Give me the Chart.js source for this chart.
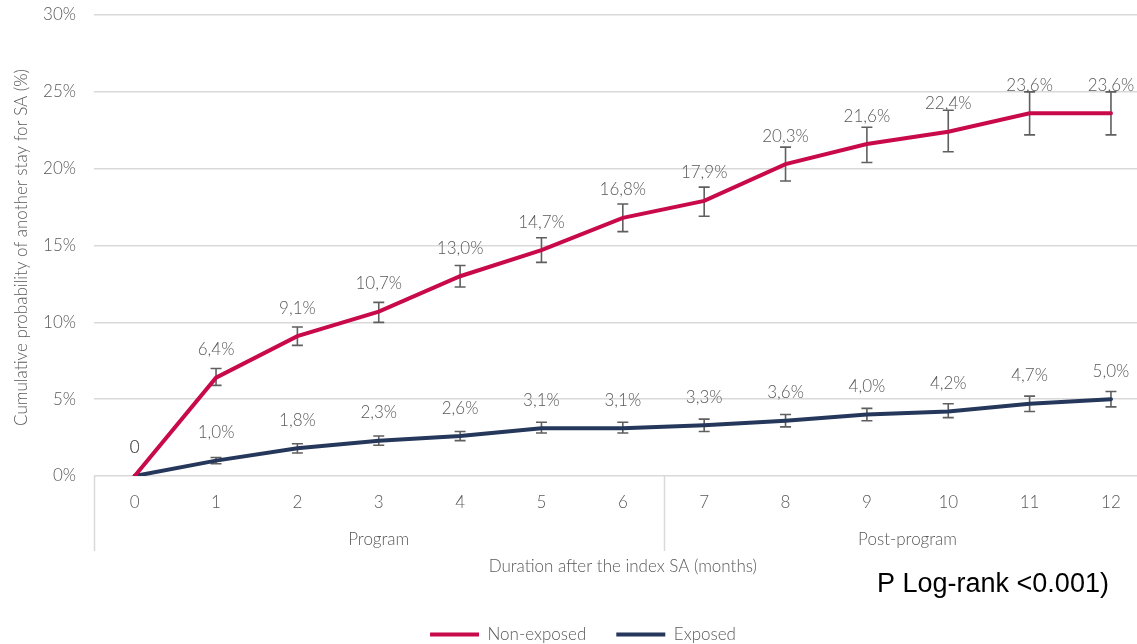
<!DOCTYPE html>
<html>
<head>
<meta charset="utf-8">
<script src="https://cdn.jsdelivr.net/npm/chart.js@4/dist/chart.umd.min.js"></script>
<style>
  html, body { margin: 0; padding: 0; background: #fff; overflow: hidden; }
</style>
</head>
<body>
<canvas id="chart" width="1137" height="644"></canvas>
<script>
// Months after the index sick-absence spell
const months = [0, 1, 2, 3, 4, 5, 6, 7, 8, 9, 10, 11, 12];
const monthLabels = ['0', '1', '2', '3', '4', '5', '6', '7', '8', '9', '10', '11', '12'];

// Cumulative probability (%) with 95% CI bounds
const nonExposed     = [0, 6.4, 9.1, 10.7, 13.0, 14.7, 16.8, 17.9, 20.3, 21.6, 22.4, 23.6, 23.6];
const nonExposedLow  = [0, 5.9, 8.5, 10.0, 12.3, 13.9, 15.9, 16.9, 19.2, 20.4, 21.1, 22.2, 22.2];
const nonExposedHigh = [0, 7.0, 9.7, 11.3, 13.7, 15.5, 17.7, 18.8, 21.4, 22.7, 23.8, 25.0, 25.0];

const exposed     = [0, 1.0, 1.8, 2.3, 2.6, 3.1, 3.1, 3.3, 3.6, 4.0, 4.2, 4.7, 5.0];
const exposedLow  = [0, 0.8, 1.5, 2.0, 2.3, 2.8, 2.8, 2.9, 3.2, 3.6, 3.8, 4.2, 4.5];
const exposedHigh = [0, 1.2, 2.1, 2.6, 2.9, 3.5, 3.5, 3.7, 4.0, 4.4, 4.7, 5.2, 5.5];

// Period groups along the month axis
const periodNames = ['Program', 'Post-program'];
const periodStart = [-0.5, 6.5];
const periodEnd   = [6.5, 12.5];

const yTicks = [0, 5, 10, 15, 20, 25, 30];

const FONT = 'Lato, "Noto Sans", sans-serif';
const WEIGHT = '300';
const TEXT = '#595959';
const GRID = '#d9d9d9';

function fmtPct(v) {
  return v === 0 ? '0' : v.toFixed(1).replace('.', ',') + '%';
}

function points(values) {
  return months.map((m, i) => ({ x: m, y: values[i] }));
}

// Confidence-interval whiskers, drawn underneath the lines
const errorBars = {
  id: 'errorBars',
  beforeDatasetsDraw(chart) {
    const { ctx, scales: { x, y } } = chart;
    ctx.save();
    ctx.strokeStyle = '#5f5f5f';
    ctx.lineWidth = 1.6;
    chart.data.datasets.forEach(ds => {
      ds.data.forEach((p, i) => {
        const lo = ds.ciLow[i], hi = ds.ciHigh[i];
        if (lo === hi) return;
        const px = x.getPixelForValue(p.x);
        const yl = y.getPixelForValue(lo), yh = y.getPixelForValue(hi);
        const cap = 5.5;
        ctx.beginPath();
        ctx.moveTo(px, yl); ctx.lineTo(px, yh);
        ctx.moveTo(px - cap, yl); ctx.lineTo(px + cap, yl);
        ctx.moveTo(px - cap, yh); ctx.lineTo(px + cap, yh);
        ctx.stroke();
      });
    });
    ctx.restore();
  }
};

// Value labels above each point
const valueLabels = {
  id: 'valueLabels',
  afterDatasetsDraw(chart) {
    const { ctx, scales: { x, y } } = chart;
    ctx.save();
    ctx.font = WEIGHT + ' 17px ' + FONT;
    ctx.fillStyle = TEXT;
    ctx.textAlign = 'center';
    ctx.textBaseline = 'middle';
    chart.data.datasets.forEach(ds => {
      ds.data.forEach(p => {
        ctx.fillText(fmtPct(p.y), x.getPixelForValue(p.x), y.getPixelForValue(p.y) - 28);
      });
    });
    ctx.restore();
  }
};

// Period dividers, period names, axis titles and test note
const decorations = {
  id: 'decorations',
  afterDraw(chart) {
    const { ctx, chartArea, scales: { x } } = chart;
    const base = chartArea.bottom;
    ctx.save();
    ctx.strokeStyle = GRID;
    ctx.lineWidth = 1.5;
    const edges = [periodStart[0]].concat(periodEnd);
    edges.forEach(v => {
      const px = Math.round(x.getPixelForValue(v)) + 0.5;
      ctx.beginPath();
      ctx.moveTo(px, base);
      ctx.lineTo(px, base + 75);
      ctx.stroke();
    });

    ctx.font = WEIGHT + ' 17px ' + FONT;
    ctx.fillStyle = TEXT;
    ctx.textAlign = 'center';
    ctx.textBaseline = 'middle';
    periodNames.forEach((name, i) => {
      const cx = (x.getPixelForValue(periodStart[i]) + x.getPixelForValue(periodEnd[i])) / 2;
      ctx.fillText(name, cx, base + 64);
    });

    const axisMid = (x.getPixelForValue(periodStart[0]) + x.getPixelForValue(periodEnd[1])) / 2;
    ctx.fillText('Duration after the index SA (months)', axisMid, base + 91);

    ctx.save();
    ctx.translate(22, (chartArea.top + chartArea.bottom) / 2 + 2);
    ctx.rotate(-Math.PI / 2);
    ctx.fillText('Cumulative probability of another stay for SA (%)', 0, 0);
    ctx.restore();

    ctx.font = '27px "Liberation Sans", Arial, sans-serif';
    ctx.fillStyle = '#000';
    ctx.textAlign = 'left';
    ctx.textBaseline = 'alphabetic';
    ctx.fillText('P Log-rank <0.001)', 877, 592);
    ctx.restore();
  }
};

new Chart(document.getElementById('chart'), {
  type: 'line',
  data: {
    datasets: [
      {
        label: 'Non-exposed',
        data: points(nonExposed),
        ciLow: nonExposedLow,
        ciHigh: nonExposedHigh,
        borderColor: '#c90a4a',
        backgroundColor: '#c90a4a',
        borderWidth: 4,
        borderCapStyle: 'round',
        pointRadius: 0,
        tension: 0
      },
      {
        label: 'Exposed',
        data: points(exposed),
        ciLow: exposedLow,
        ciHigh: exposedHigh,
        borderColor: '#25375b',
        backgroundColor: '#25375b',
        borderWidth: 4,
        borderCapStyle: 'round',
        pointRadius: 0,
        tension: 0
      }
    ]
  },
  options: {
    responsive: false,
    animation: false,
    devicePixelRatio: 1,
    layout: { autoPadding: false, padding: { left: 29, right: 0, top: 15, bottom: 0 } },
    plugins: {
      tooltip: { enabled: false },
      legend: {
        position: 'bottom',
        maxHeight: 48,
        labels: {
          usePointStyle: true,
          pointStyle: 'line',
          pointStyleWidth: 49,
          color: TEXT,
          font: { family: FONT, size: 17, weight: WEIGHT },
          padding: 30
        }
      }
    },
    scales: {
      x: {
        type: 'linear',
        min: -0.5,
        max: 12.32,
        afterBuildTicks(scale) { scale.ticks = months.map(v => ({ value: v })); },
        afterFit(scale) { scale.height = 120; },
        grid: { display: false, drawTicks: false },
        border: { display: false },
        ticks: {
          autoSkip: false,
          maxRotation: 0,
          padding: 16,
          color: TEXT,
          font: { family: FONT, size: 17, weight: WEIGHT },
          callback: v => monthLabels[months.indexOf(v)]
        }
      },
      y: {
        min: 0,
        max: 30,
        afterBuildTicks(scale) { scale.ticks = yTicks.map(v => ({ value: v })); },
        afterFit(scale) {
          scale.width = 65;
          scale.paddingTop = 0;
          scale.paddingBottom = 0;
        },
        grid: { color: GRID, lineWidth: 1.5, drawTicks: false },
        border: { display: false },
        ticks: {
          padding: 18,
          color: TEXT,
          font: { family: FONT, size: 17, weight: WEIGHT },
          callback: v => v + '%'
        }
      }
    }
  },
  plugins: [errorBars, valueLabels, decorations]
});
</script>
</body>
</html>
